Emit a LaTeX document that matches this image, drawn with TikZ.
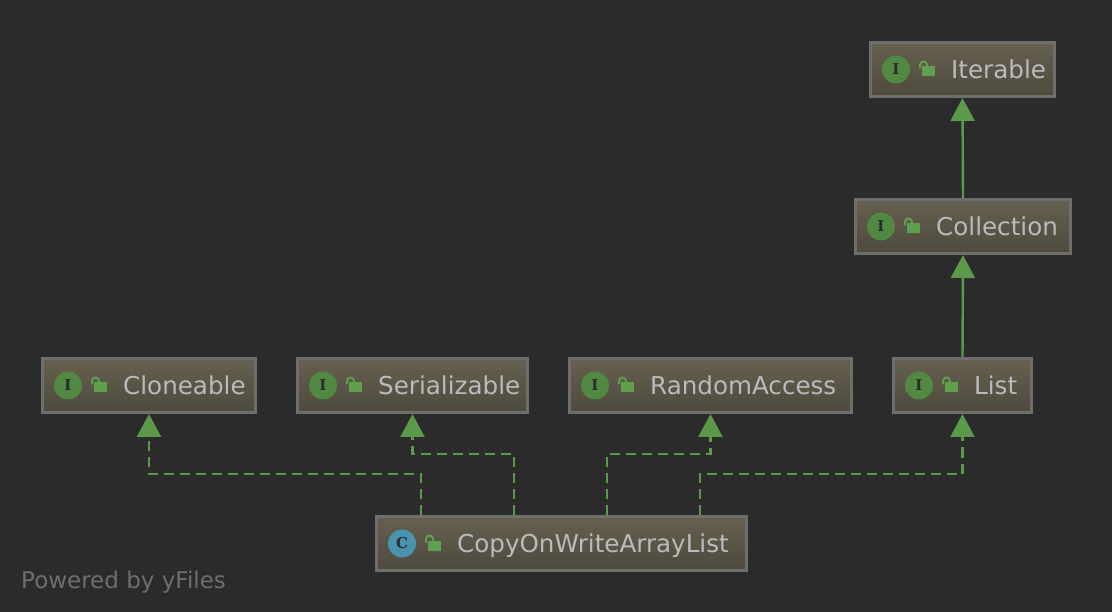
\documentclass[tikz,border=0pt]{standalone}
\usepackage{fontspec}
\setmainfont{DejaVu Sans}
\setmonofont{DejaVu Serif}
\usetikzlibrary{arrows.meta,calc}

\definecolor{bgdark}{HTML}{2B2B2B}
\definecolor{boxedge}{HTML}{6E6E6C}
\definecolor{boxtop}{HTML}{666050}
\definecolor{boxbottom}{HTML}{4E4A3C}
\definecolor{arrowgreen}{HTML}{5A9A4A}
\definecolor{lockgreen}{HTML}{5FA04E}
\definecolor{iconblue}{HTML}{4A93AE}
\definecolor{labelgrey}{HTML}{BBBBBB}

\tikzset{
  typebox/.style={draw=boxedge,line width=3pt,top color=boxtop,bottom color=boxbottom,
    minimum height=54pt,inner sep=0pt,anchor=north west},
  typename/.style={text=labelgrey,font=\fontsize{24.6}{25}\selectfont,inner sep=0pt,anchor=base west},
  typeicon/.style={circle,minimum size=28pt,inner sep=0pt,font=\fontsize{15}{15}\selectfont\ttfamily\bfseries,text=bgdark},
  extends/.style={draw=arrowgreen,line width=2.4pt,-{Triangle[width=24pt,length=23pt,fill=arrowgreen]}},
  implements/.style={extends,dash pattern=on 10pt off 6pt},
}

% box with its round icon, open lock and name
\newcommand{\typenode}[7]{
  \node[typebox,minimum width=#4pt] (#1) at (#2,#3) {};
  \node[typeicon,fill=#5] (#1icon) at ($(#1.west)+(27,0)$) {#6};
  \fill[lockgreen] ($(#1icon.center)+(26,-3)$) rectangle ++(13,10);
  \draw[lockgreen,line width=2pt] ($(#1icon.center)+(24,-1)$) -- ++(0,-3.5) arc (180:360:3.5) -- ++(0,1.5);
  \node[typename] (#1name) at ($(#1icon.center)+(55,9)$) {#7};
}

\begin{document}
\begin{tikzpicture}[x=1pt,y=-1pt]

    \useasboundingbox[fill=bgdark] (0,0) rectangle (1112,612);

    \typenode{iterable}{869}{41}{184}{lockgreen!85!black}{I}{Iterable}
    \typenode{collection}{854}{198}{215}{lockgreen!85!black}{I}{Collection}
    \typenode{cloneable}{41}{357}{213}{lockgreen!85!black}{I}{Cloneable}
    \typenode{serializable}{296}{357}{230}{lockgreen!85!black}{I}{Serializable}
    \typenode{randomaccess}{568}{357}{282}{lockgreen!85!black}{I}{RandomAccess}
    \typenode{list}{892}{357}{138}{lockgreen!85!black}{I}{List}
    \typenode{cowlist}{375}{515}{370}{iconblue}{C}{CopyOnWriteArrayList}

    \draw[extends] (collection.north) -- (iterable.south);
    \draw[extends] (list.north) -- (collection.south);

    \draw[implements] ([xshift=46pt]cowlist.north west) -- ++(0,-41) -| (cloneable.south);
    \draw[implements] ([xshift=139pt]cowlist.north west) -- ++(0,-61) -| (serializable.south);
    \draw[implements] ([xshift=232pt]cowlist.north west) -- ++(0,-61) -| (randomaccess.south);
    \draw[implements] ([xshift=325pt]cowlist.north west) -- ++(0,-41) -| (list.south);

    \node[text=boxedge,font=\fontsize{23}{23}\selectfont,inner sep=0pt,anchor=base west] (poweredby) at (21,588) {Powered by yFiles};

\end{tikzpicture}
\end{document}
